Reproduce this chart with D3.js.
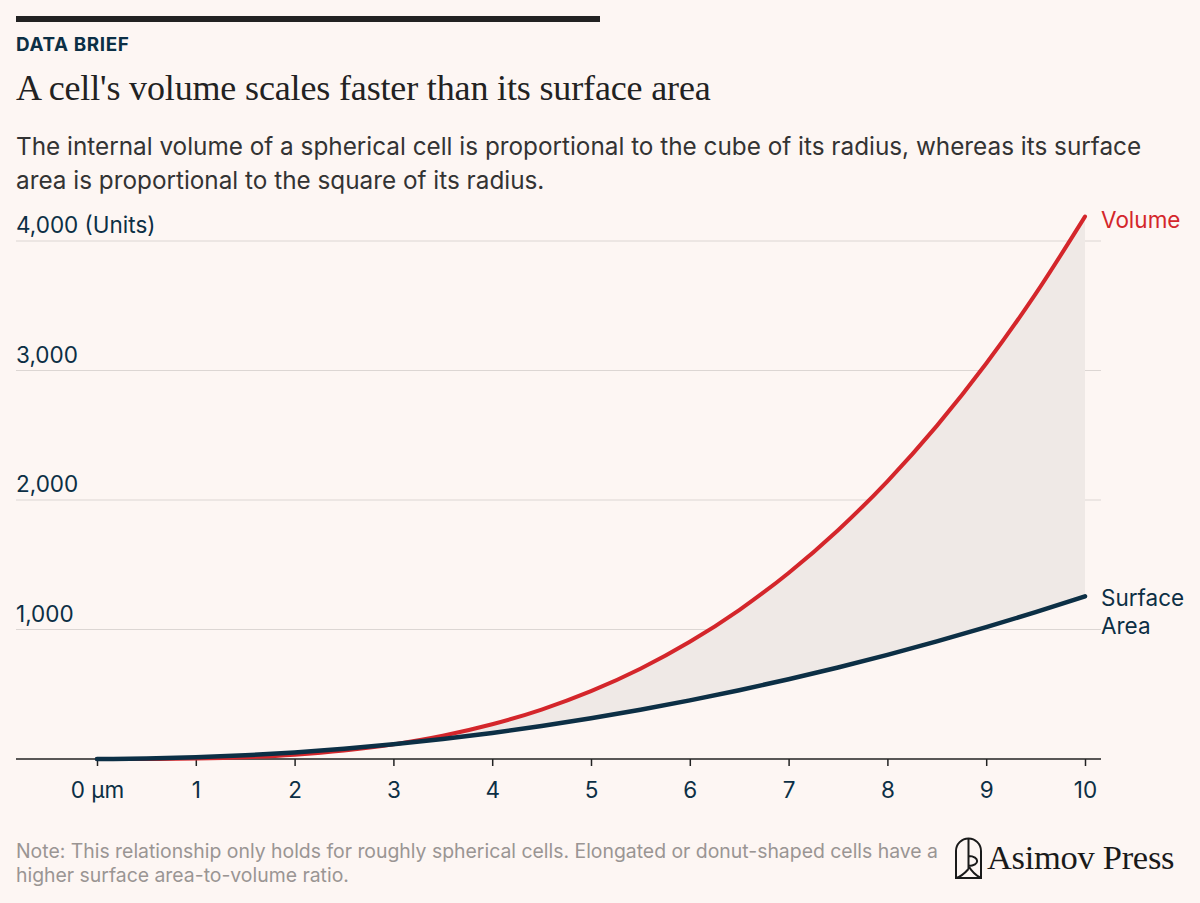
<!DOCTYPE html>
<html>
<head>
<meta charset="utf-8">
<script src="https://cdn.jsdelivr.net/npm/d3@7"></script>
<style>
  html, body { margin: 0; padding: 0; background: #fdf6f3; }
  svg { display: block; }
</style>
</head>
<body>
<script>
// radius in µm, values in units
const radius = [0, 0.5, 1, 1.5, 2, 2.5, 3, 3.5, 4, 4.5, 5, 5.5, 6, 6.5, 7, 7.5, 8, 8.5, 9, 9.5, 10];
const volume = [0, 0.5, 4.2, 14.1, 33.5, 65.4, 113.1, 179.6, 268.1, 381.7, 523.6, 696.9, 904.8, 1150.3, 1436.8, 1767.1, 2144.7, 2572.4, 3053.6, 3591.4, 4188.8];
const surface = [0, 3.1, 12.6, 28.3, 50.3, 78.5, 113.1, 153.9, 201.1, 254.5, 314.2, 380.1, 452.4, 530.9, 615.8, 706.9, 804.2, 907.9, 1017.9, 1134.1, 1256.6];
const xTicks = [0, 1, 2, 3, 4, 5, 6, 7, 8, 9, 10];
const yTicks = [1000, 2000, 3000, 4000];

const rows = radius.map((r, i) => ({ r, v: volume[i], s: surface[i] }));

const width = 1200;
const height = 903;
const navy = "#0c2f45";
const red = "#d4262b";
const sans = "Inter, sans-serif";

const svg = d3
  .select("body")
  .append("svg")
  .attr("width", width)
  .attr("height", height);

svg.append("rect").attr("width", width).attr("height", height).attr("fill", "#fdf6f3");

// header
svg.append("rect").attr("x", 16).attr("y", 16).attr("width", 584).attr("height", 6).attr("fill", "#222");

svg.append("text")
  .attr("x", 16).attr("y", 51)
  .attr("font-family", sans)
  .attr("font-weight", 700)
  .attr("font-size", 18.5)
  .attr("letter-spacing", 0.6)
  .attr("fill", navy)
  .attr("transform", "translate(16,0) scale(1.02,1) translate(-16,0)")
  .text("DATA BRIEF");

svg.append("text")
  .attr("x", 16).attr("y", 100)
  .attr("font-family", "'Liberation Serif', serif")
  .attr("font-size", 36)
  .attr("letter-spacing", -0.15)
  .attr("fill", "#222")
  .text("A cell's volume scales faster than its surface area");

const subtitle = [
  "The internal volume of a spherical cell is proportional to the cube of its radius, whereas its surface",
  "area is proportional to the square of its radius.",
];
svg.append("text")
  .attr("font-family", sans)
  .attr("font-size", 24.3)
  .attr("fill", "#333")
  .selectAll("tspan")
  .data(subtitle)
  .join("tspan")
  .attr("x", 16)
  .attr("y", (d, i) => 155 + i * 34)
  .text((d) => d);

// scales
const x = d3.scaleLinear().domain([0, 10]).range([97, 1085]);
const y = d3.scaleLinear().domain([0, 4000]).range([759, 241]);

// gridlines + y labels
const grid = svg.append("g");
grid.selectAll("line")
  .data(yTicks)
  .join("line")
  .attr("x1", 16).attr("x2", 1101)
  .attr("y1", (d) => y(d)).attr("y2", (d) => y(d))
  .attr("stroke", "#dcd6d3")
  .attr("stroke-width", 1);
grid.selectAll("text")
  .data(yTicks)
  .join("text")
  .attr("x", 16)
  .attr("y", (d) => y(d) - 8)
  .attr("font-family", sans)
  .attr("font-size", 22.5)
  .attr("fill", navy)
  .text((d) => d3.format(",")(d) + (d === 4000 ? " (Units)" : ""));

// area between curves
const area = d3.area()
  .x((d) => x(d.r))
  .y0((d) => y(d.s))
  .y1((d) => y(d.v))
  .curve(d3.curveMonotoneX);
svg.append("path").datum(rows).attr("d", area).attr("fill", "#efe9e6");

// x axis
const xAxis = svg.append("g")
  .attr("transform", `translate(0,${y(0)})`)
  .call(
    d3.axisBottom(x)
      .tickValues(xTicks)
      .tickSize(7)
      .tickSizeOuter(0)
      .tickFormat((d) => (d === 0 ? "0 µm" : d))
  );
xAxis.select(".domain").remove();
xAxis.append("line").attr("x1", 16).attr("x2", 1101).attr("stroke", "#222").attr("stroke-width", 1.5);
xAxis.selectAll(".tick line").attr("stroke", "#222").attr("stroke-width", 1.5);
xAxis.selectAll(".tick text")
  .attr("dy", 0)
  .attr("y", 39)
  .attr("font-family", sans)
  .attr("font-size", 22.5)
  .attr("fill", navy);

// lines
const line = (key) => d3.line().x((d) => x(d.r)).y((d) => y(d[key])).curve(d3.curveMonotoneX);
svg.append("path").datum(rows).attr("d", line("v"))
  .attr("fill", "none").attr("stroke", red).attr("stroke-width", 4).attr("stroke-linecap", "round");
svg.append("path").datum(rows).attr("d", line("s"))
  .attr("fill", "none").attr("stroke", navy).attr("stroke-width", 4.5).attr("stroke-linecap", "round");

// end labels
const last = rows[rows.length - 1];
svg.append("text")
  .attr("x", x(last.r) + 16).attr("y", y(last.v) + 11)
  .attr("font-family", sans).attr("font-size", 22.5).attr("fill", red)
  .text("Volume");
svg.append("text")
  .attr("font-family", sans).attr("font-size", 22.5).attr("fill", navy)
  .selectAll("tspan")
  .data(["Surface", "Area"])
  .join("tspan")
  .attr("x", x(last.r) + 16)
  .attr("y", (d, i) => y(last.s) + 10 + i * 28)
  .text((d) => d);

// note
const note = [
  "Note: This relationship only holds for roughly spherical cells. Elongated or donut-shaped cells have a",
  "higher surface area-to-volume ratio.",
];
svg.append("text")
  .attr("font-family", sans)
  .attr("font-size", 19.4)
  .attr("fill", "#9a9593")
  .selectAll("tspan")
  .data(note)
  .join("tspan")
  .attr("x", 16)
  .attr("y", (d, i) => 858 + i * 24)
  .text((d) => d);

// logo
const logo = svg.append("g").attr("fill", "none").attr("stroke", "#1a1a1a").attr("stroke-width", 2);
logo.append("path").attr("d", "M956,878 V851 A12.5,12.5 0 0 1 981,851 V878 Z");
logo.append("path").attr("d", "M968.5,839 V869 M968.5,856 C980,856 980,866 968.5,866 M968.5,866 C972,872 977,876 981,878 M968.5,869 C964,874 960,877 956,878");
svg.append("text")
  .attr("x", 987).attr("y", 869)
  .attr("font-family", "'Liberation Serif', serif")
  .attr("font-size", 34.5)
  .attr("letter-spacing", -0.3)
  .attr("fill", "#1a1a1a")
  .text("Asimov Press");
</script>
</body>
</html>
